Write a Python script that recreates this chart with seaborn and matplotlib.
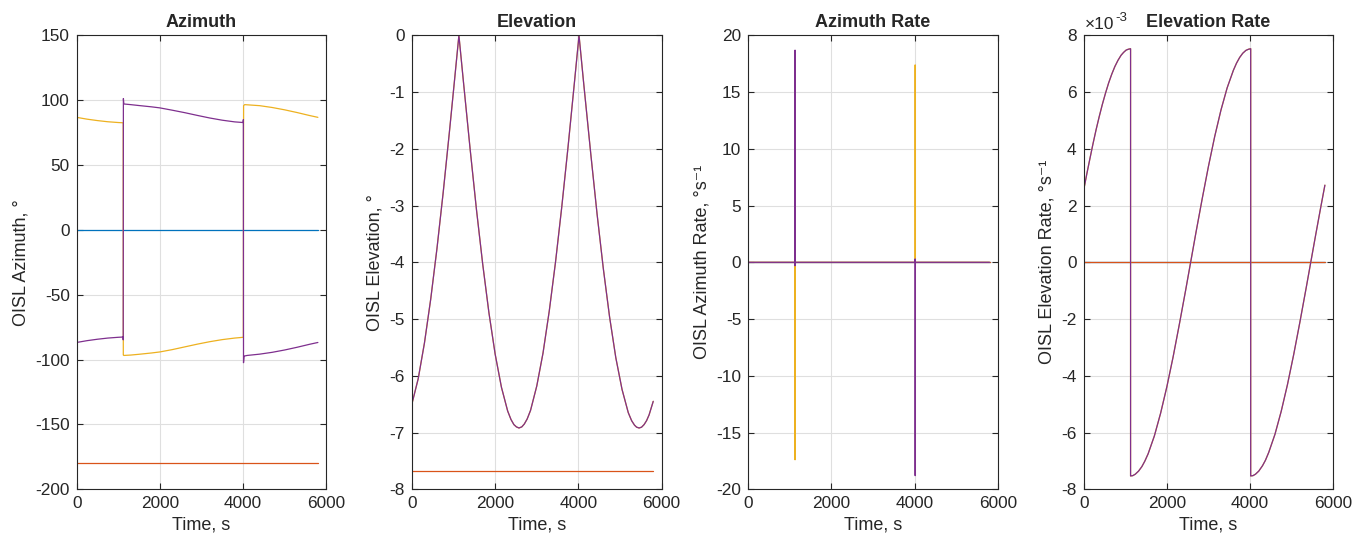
import numpy as np
import pandas as pd
import matplotlib
matplotlib.use("Agg")
import matplotlib.pyplot as plt
import seaborn as sns
from matplotlib.ticker import FuncFormatter

# MATLAB default colour order
c_blue = "#0072BD"
c_orange = "#D95319"
c_yellow = "#EDB120"
c_purple = "#7E2F8E"

t_span = [0, 5800]

### Azimuth, deg
az_blue = [0, 0]
az_orange = [-180, -180]
az_yel_t = [0, 250, 500, 750, 1000, 1120, 1122, 1135, 1300, 1500, 1800, 2000, 2300, 2600, 2900,
            3200, 3500, 3800, 4008, 4014, 4040, 4400, 4700, 5000, 5300, 5600, 5800]
az_yel = [86.8, 85.4, 84.3, 83.4, 82.8, 82.6, -96.5, -96.8, -96.5, -95.9, -94.9, -94.1, -92.3, -90.2, -88.1,
          -86.2, -84.6, -83.4, -82.8, 95.8, 96.6, 95.8, 94.4, 92.6, 90.5, 88.2, 86.8]
az_pur_t = [0, 250, 500, 750, 1000, 1116, 1120, 1124, 1135, 1300, 1500, 1800, 2000, 2300, 2600, 2900,
            3200, 3500, 3800, 4004, 4008, 4012, 4025, 4100, 4400, 4700, 5000, 5300, 5600, 5800]
az_pur = [-86.8, -85.4, -84.3, -83.4, -82.8, -82.6, -84.8, 101.3, 97.1, 96.6, 95.9, 94.9, 94.1, 92.3, 90.4, 88.3,
          86.3, 84.6, 83.3, 82.8, 85.0, -102.4, -97.3, -96.8, -95.8, -94.4, -92.6, -90.5, -88.2, -86.8]

### Elevation, deg (yellow and purple overlap)
el_t = [0, 150, 300, 450, 600, 750, 900, 1020, 1128, 1240, 1400, 1550, 1700, 1850, 2000, 2150, 2300, 2380,
        2450, 2510, 2572, 2640, 2700, 2770, 2850, 3000, 3150, 3300, 3450, 3600, 3750, 3900, 4016, 4130,
        4300, 4450, 4600, 4750, 4900, 5050, 5200, 5280, 5350, 5400, 5460, 5520, 5580, 5640, 5700, 5800]
el = [-6.49, -6.05, -5.42, -4.65, -3.76, -2.77, -1.70, -0.81, 0.0, -0.84, -2.02, -3.07, -4.03, -4.89, -5.62,
      -6.20, -6.62, -6.77, -6.86, -6.90, -6.92, -6.90, -6.85, -6.76, -6.61, -6.18, -5.60, -4.86, -4.00, -3.03,
      -1.98, -0.87, 0.0, -0.86, -2.10, -3.15, -4.11, -4.96, -5.68, -6.24, -6.65, -6.79, -6.87, -6.905, -6.92,
      -6.905, -6.86, -6.79, -6.69, -6.45]
el_orange = [-7.67, -7.67]

### Azimuth rate, deg/s
azr_zero = [0, 0]
azr_yel_t = [0, 1118, 1122, 1124, 1126, 1130, 4008, 4012, 4016, 5800]
azr_yel = [0, 0, -0.3, -17.4, -0.3, 0, 0, 17.4, 0, 0]
azr_pur_t = [0, 1118, 1122, 1124, 1128, 4006, 4010, 4012, 4016, 5800]
azr_pur = [0, 0, -0.3, 18.7, 0, 0, 0.3, -18.8, 0, 0]

### Elevation rate, 1e-3 deg/s
elr_t = [0, 75, 150, 225, 300, 375, 450, 525, 600, 675, 750, 825, 900, 960, 1020, 1070, 1128, 1128, 1180,
         1240, 1320, 1400, 1470, 1550, 1700, 1850, 2000, 2150, 2300, 2450, 2572, 2700, 2850, 3000, 3150,
         3300, 3450, 3600, 3675, 3750, 3825, 3900, 3960, 4016, 4016, 4070, 4130, 4210, 4300, 4370, 4450,
         4600, 4750, 4900, 5050, 5200, 5350, 5460, 5580, 5700, 5800]
elr = [2.54, 3.11, 3.65, 4.18, 4.68, 5.14, 5.57, 5.96, 6.32, 6.63, 6.90, 7.12, 7.30, 7.40, 7.48, 7.51, 7.53,
       -7.53, -7.52, -7.47, -7.36, -7.20, -7.01, -6.75, -6.12, -5.32, -4.39, -3.34, -2.19, -1.00, 0.0, 1.05,
       2.24, 3.38, 4.43, 5.36, 6.15, 6.77, 7.02, 7.22, 7.37, 7.47, 7.51, 7.53, -7.53, -7.52, -7.47, -7.36,
       -7.17, -6.98, -6.70, -6.06, -5.25, -4.31, -3.25, -2.10, -0.90, 0.0, 0.98, 1.94, 2.72]
elr_orange = [0, 0]

sns.set_style("ticks")
plt.rcParams["font.family"] = ["Liberation Sans", "DejaVu Sans"]
plt.rcParams["axes.unicode_minus"] = False

txt = "#262626"
lw = 0.9


def line(ax, x, y, color):
    sns.lineplot(x=x, y=y, ax=ax, color=color, linewidth=lw, estimator=None, sort=False)


fig = plt.figure(figsize=(13.66, 5.41), dpi=100)
lefts = [0.0561, 0.3016, 0.5478, 0.7933]
axes = [fig.add_axes([l, 0.0956, 0.1827, 0.839]) for l in lefts]

# Azimuth
ax = axes[0]
line(ax, t_span, az_blue, c_blue)
line(ax, t_span, az_orange, c_orange)
line(ax, az_yel_t, az_yel, c_yellow)
line(ax, az_pur_t, az_pur, c_purple)
ax.set_ylim(-200, 150)
ax.set_yticks(np.arange(-200, 151, 50))
ax.set_title("Azimuth")
ax.set_ylabel("OISL Azimuth, °")

# Elevation
ax = axes[1]
line(ax, t_span, el_orange, c_orange)
line(ax, el_t, el, c_yellow)
line(ax, el_t, el, c_purple)
ax.set_ylim(-8, 0)
ax.set_yticks(np.arange(-8, 1, 1))
ax.set_title("Elevation")
ax.set_ylabel("OISL Elevation, °")

# Azimuth rate
ax = axes[2]
line(ax, t_span, azr_zero, c_blue)
line(ax, t_span, azr_zero, c_orange)
line(ax, azr_yel_t, azr_yel, c_yellow)
line(ax, azr_pur_t, azr_pur, c_purple)
ax.set_ylim(-20, 20)
ax.set_yticks(np.arange(-20, 21, 5))
ax.set_title("Azimuth Rate")
ax.set_ylabel("OISL Azimuth Rate, °s⁻¹")

# Elevation rate
ax = axes[3]
elr_si = [v * 1e-3 for v in elr]
line(ax, t_span, elr_orange, c_blue)
line(ax, t_span, elr_orange, c_orange)
line(ax, elr_t, elr_si, c_yellow)
line(ax, elr_t, elr_si, c_purple)
ax.set_ylim(-0.008, 0.008)
ax.set_yticks(np.arange(-8, 9, 2) * 1e-3)
ax.yaxis.set_major_formatter(FuncFormatter(lambda v, p: f"{v * 1e3:g}"))
ax.set_title("Elevation Rate")
ax.set_ylabel("OISL Elevation Rate, °s⁻¹")
# MATLAB style exponent label
t10 = ax.annotate("×10", xy=(0, 1), xycoords="axes fraction", xytext=(1, 2.5),
                  textcoords="offset points", fontsize=12.4, color=txt, va="bottom", ha="left")
ax.annotate("-3", xy=(1, 0.55), xycoords=t10, xytext=(0.5, 0), textcoords="offset points",
            fontsize=9.5, color=txt, va="bottom", ha="left")

for ax in axes:
    ax.set_xlim(0, 6000)
    ax.set_xticks([0, 2000, 4000, 6000])
    ax.set_xlabel("Time, s", fontsize=13, color=txt)
    ax.yaxis.label.set_fontsize(13)
    ax.yaxis.label.set_color(txt)
    ax.title.set_fontsize(13)
    ax.title.set_fontweight("bold")
    ax.grid(True, color="#DFDFDF", linewidth=0.8)
    ax.set_axisbelow(True)
    ax.tick_params(direction="in", length=4, width=0.8, top=True, right=True,
                   labelsize=12.4, colors=txt, pad=5)
    for s in ax.spines.values():
        s.set_color(txt)
        s.set_linewidth(0.8)

fig.savefig("out.png", dpi=100)
